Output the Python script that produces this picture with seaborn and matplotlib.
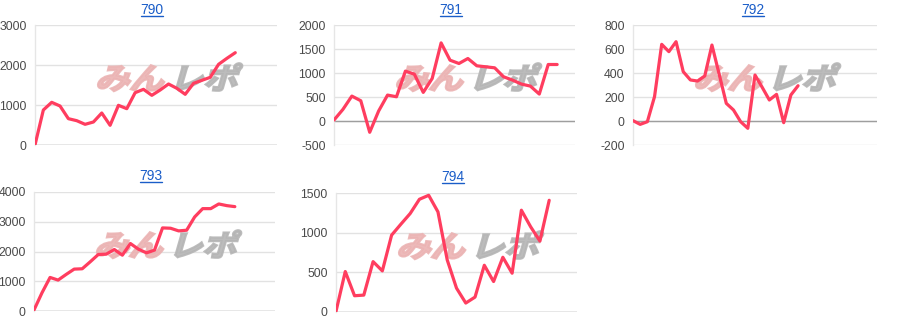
import numpy as np
import pandas as pd
import seaborn as sns
import matplotlib
matplotlib.use("Agg")
import matplotlib.pyplot as plt
from matplotlib.textpath import TextPath
from matplotlib.font_manager import FontProperties
from matplotlib.patches import PathPatch
from matplotlib.transforms import Affine2D, IdentityTransform
from matplotlib.lines import Line2D

titles = ["790", "791", "792", "793", "794"]

s790 = [0, 875, 1067, 975, 658, 608, 517, 575, 800, 492, 992, 908, 1308, 1392,
        1242, 1375, 1525, 1417, 1267, 1542, 1617, 1692, 2017, 2167, 2308]
s791 = [20, 242, 519, 422, -235, 208, 540, 505, 1039, 976, 596, 886, 1627, 1267,
        1198, 1302, 1150, 1129, 1108, 921, 852, 769, 727, 561, 1177, 1177]
s792 = [3, -28, -6, 203, 639, 578, 661, 411, 342, 333, 375, 633, 392, 147, 92,
        -6, -61, 383, 281, 175, 222, -14, 217, 294]
s793 = [34, 615, 1128, 1039, 1229, 1408, 1419, 1654, 1899, 1911, 2067, 1877, 2268,
        2078, 1955, 2045, 2793, 2782, 2693, 2715, 3162, 3441, 3441, 3598, 3542, 3508]
s794 = [8, 510, 205, 213, 635, 518, 969, 1107, 1241, 1421, 1471, 1262, 656, 301,
        113, 188, 589, 384, 690, 489, 1283, 1074, 894, 1408]

series = [s790, s791, s792, s793, s794]
y_ticks = [
    [0, 1000, 2000, 3000],
    [-500, 0, 500, 1000, 1500, 2000],
    [-200, 0, 200, 400, 600, 800],
    [0, 1000, 2000, 3000, 4000],
    [0, 500, 1000, 1500],
]
x_max = [29, 27, 34, 30, 26]

sns.set_theme(style="white")
plt.rcParams['font.family'] = ['Liberation Sans', 'DejaVu Sans']

W, H = 900, 332
fig = plt.figure(figsize=(W / 100, H / 100), dpi=100)
fig.patch.set_facecolor("white")

boxes = [(35, 25, 277, 145), (334, 25, 575, 145), (633, 25, 877, 145),
         (34, 192, 275, 311), (336, 193, 577, 312)]
title_pos = [(152, 9.5, 15.5), (451, 9.5, 15.5), (753, 9.5, 15.5),
             (151, 176, 182), (453, 177, 183)]

line_color = "#ff3d5f"
link_color = "#1a5dc8"
fp = FontProperties(family="Noto Sans CJK JP", weight="bold")

for i, (title, vals) in enumerate(zip(titles, series)):
    l, t, r, b = boxes[i]
    ax = fig.add_axes([l / W, 1 - b / H, (r - l) / W, (b - t) / H])
    ax.set_facecolor("none")
    df = pd.DataFrame({"x": np.arange(len(vals)), "y": vals})
    sns.lineplot(data=df, x="x", y="y", ax=ax, color=line_color, linewidth=2.3,
                 zorder=3)
    yt = y_ticks[i]
    ax.set_xlim(0, x_max[i])
    ax.set_ylim(yt[0], yt[-1])
    ax.set_yticks(yt)
    ax.set_yticklabels([str(v) for v in yt])
    ax.set_xticks([])
    ax.set_xlabel("")
    ax.set_ylabel("")
    ax.grid(axis="y", color="#e2e2e2", linewidth=1, zorder=0)
    ax.set_axisbelow(True)
    ax.axhline(0, color="#9e9e9e", linewidth=1, zorder=1)
    for sp in ["top", "right", "bottom"]:
        ax.spines[sp].set_visible(False)
    ax.spines["left"].set_color("#e6e6e6")
    ax.spines["left"].set_linewidth(1)
    ax.tick_params(axis="y", length=0, pad=6, labelsize=8.8, labelcolor="#4a4a4a")

    # watermark
    base_y = H - (t + 64)
    x0 = l + 60
    for ch, col, dx in [("み", "#ebb3b3", 0), ("ん", "#ebb3b3", 34),
                        ("レ", "#b5b5b5", 74), ("ポ", "#b5b5b5", 108)]:
        tp = TextPath((0, 0), ch, size=33, prop=fp)
        tr = Affine2D().scale(1.05, 0.9).skew_deg(16, 0).translate(x0 + dx, base_y)
        patch = PathPatch(tp, transform=tr + IdentityTransform(), facecolor=col,
                          edgecolor=col, linewidth=1.6, alpha=0.9, zorder=2,
                          clip_on=False)
        ax.add_artist(patch)

    cx, ty, uy = title_pos[i]
    fig.text(cx / W, 1 - ty / H, title, ha="center", va="center",
             color=link_color, fontsize=10)
    fig.add_artist(Line2D([(cx - 11) / W, (cx + 11) / W], [1 - uy / H, 1 - uy / H],
                          transform=fig.transFigure, color=link_color, linewidth=1))

fig.savefig("out.png", dpi=100)
